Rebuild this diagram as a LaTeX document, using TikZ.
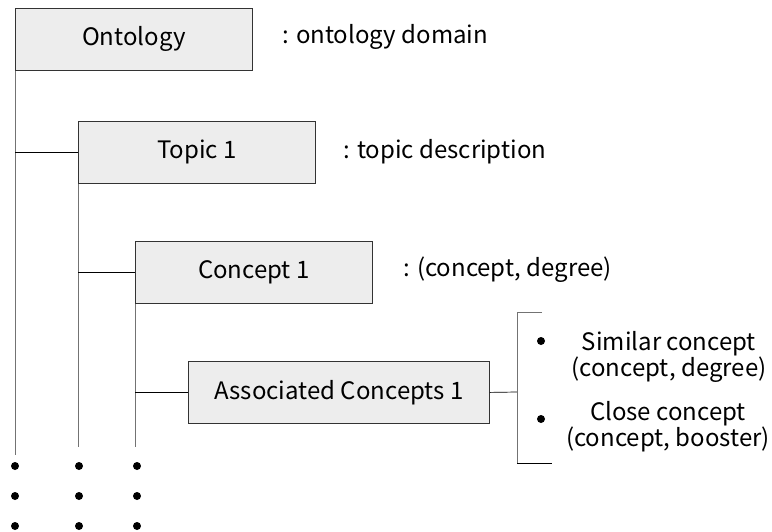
\documentclass[tikz,border=0pt]{standalone}
\usepackage{fontspec}
\setmainfont{Noto Sans CJK KR}
\usepackage{tikz}
\usetikzlibrary{positioning}

\begin{document}
\begin{tikzpicture}[
  x=1pt, y=-1pt,
  font=\fontsize{24}{26}\selectfont,
  level/.style={draw=black!80, fill=black!7, line width=0.8pt, minimum width=237pt,
                minimum height=62pt, inner sep=0pt, anchor=north west},
  note/.style={anchor=west, inner sep=0pt},
  trunk/.style={draw=black!55, line width=1pt},
  branch/.style={draw=black, line width=0.7pt},
  dot/.style={circle, fill=black, inner sep=0pt, minimum size=8pt},
]
\useasboundingbox (0,0) rectangle (772,531);

\node[level] (onto) at (15,8) {Ontology};
\node[note] (ontonote) at (282,37) {: ontology domain};
\node[level] (topic) at (78,121) {Topic 1};
\node[note] (topicnote) at (343,152) {: topic description};
\node[level] (conc) at (135,241) {Concept 1};
\node[note] (concnote) at (403,270) {: (concept, degree)};
\node[level, minimum width=301pt] (assoc) at (188,361) {Associated Concepts 1};

% dots below the trunks
\foreach \c/\x in {a/15,b/79,c/137} {
  \foreach \r/\y in {1/466,2/496,3/526} {
    \node[dot] (\c\r) at (\x,\y) {};
  }
}
\coordinate (enda) at (15,455);
\coordinate (endb) at (78,447);
\coordinate (endc) at (135,447);

\draw[trunk] (onto.south west) -- (enda);
\draw[trunk] (topic.south west) -- (endb);
\draw[trunk] (conc.south west) -- (endc);
\draw[branch] (enda |- topic.west) -- (topic.west);
\draw[branch] (endb |- conc.west) -- (conc.west);
\draw[branch] (endc |- assoc.west) -- (assoc.west);

% bracket with the two kinds
\coordinate (brmid) at (517,392);
\coordinate (brtop) at (542,312);
\coordinate (brbot) at (552,463);
\draw[branch] (assoc.east) -- (brmid);
\draw[trunk, line width=0.8pt] (brtop) -- (brtop -| brmid) -- (brbot -| brmid);
\draw[branch] (brbot -| brmid) -- (brbot);

\node[dot] (b1) at (541,341) {};
\node[dot] (b2) at (541,419) {};
\node[align=center, inner sep=0pt, font=\fontsize{24}{25}\selectfont] (sim) at (669,357) {Similar concept\\(concept, degree)};
\node[align=center, inner sep=0pt, font=\fontsize{24}{25}\selectfont] (close) at (668,427) {Close concept\\(concept, booster)};
\end{tikzpicture}
\end{document}
